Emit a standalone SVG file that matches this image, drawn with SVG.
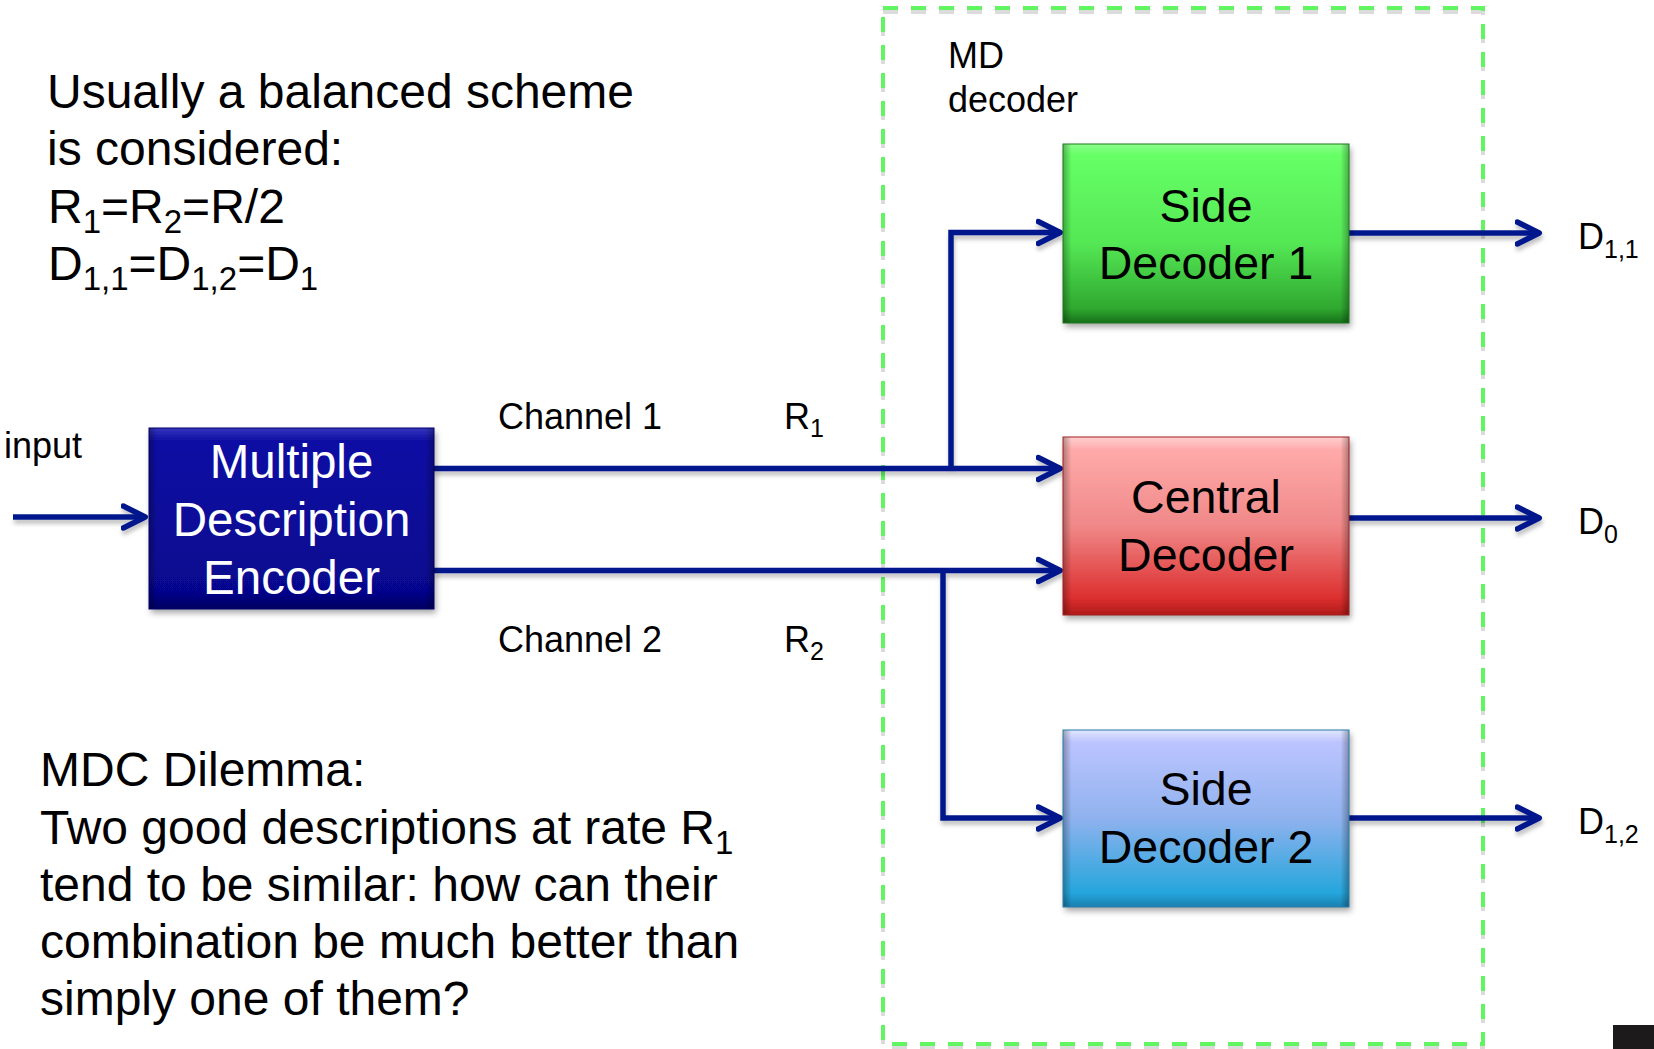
<svg xmlns="http://www.w3.org/2000/svg" width="1654" height="1049" viewBox="0 0 1654 1049">
<style>
.t{font-family:"Liberation Sans",Arial,sans-serif;fill:#000}
.p{font-size:48px}
.lbl{font-size:36px}
.box{font-size:46.5px;text-anchor:middle}
.enc{font-size:47.5px;text-anchor:middle;fill:#fff}
.wire{fill:none;stroke:#00178c;stroke-width:5.5}
.arr{marker-end:url(#ah)}
</style>
<defs>
<filter id="sh" x="-10%" y="-10%" width="120%" height="130%">
<feDropShadow dx="2" dy="4" stdDeviation="3" flood-color="#000" flood-opacity="0.35"/>
</filter>
<filter id="lsh" x="-5%" y="-5%" width="110%" height="120%">
<feDropShadow dx="1" dy="4" stdDeviation="2" flood-color="#000" flood-opacity="0.25"/>
</filter>
<marker id="ah" markerUnits="userSpaceOnUse" viewBox="0 0 30 30" markerWidth="30" markerHeight="30" refX="23.75" refY="15" orient="auto">
<path d="M2,4 L24,15 L2,26" fill="none" stroke="#00178c" stroke-width="5.5" stroke-linecap="round" stroke-linejoin="round"/>
</marker>
<linearGradient id="gEnc" x1="0" y1="0" x2="0" y2="1">
<stop offset="0" stop-color="#3535bd"/>
<stop offset="0.07" stop-color="#1010a4"/>
<stop offset="0.9" stop-color="#06068f"/>
<stop offset="1" stop-color="#000060"/>
</linearGradient>
<linearGradient id="gGreen" x1="0" y1="0" x2="0" y2="1">
<stop offset="0" stop-color="#8cff8c"/>
<stop offset="0.06" stop-color="#66ff66"/>
<stop offset="0.55" stop-color="#55e855"/>
<stop offset="0.92" stop-color="#2fa82f"/>
<stop offset="1" stop-color="#17701a"/>
</linearGradient>
<linearGradient id="gRed" x1="0" y1="0" x2="0" y2="1">
<stop offset="0" stop-color="#ffd0d0"/>
<stop offset="0.07" stop-color="#ffaaaa"/>
<stop offset="0.5" stop-color="#f08888"/>
<stop offset="0.9" stop-color="#dd3030"/>
<stop offset="1" stop-color="#b01a1a"/>
</linearGradient>
<linearGradient id="gBlue" x1="0" y1="0" x2="0" y2="1">
<stop offset="0" stop-color="#e0e6ff"/>
<stop offset="0.07" stop-color="#bcc4ff"/>
<stop offset="0.5" stop-color="#8fb2ee"/>
<stop offset="0.92" stop-color="#25a6dc"/>
<stop offset="1" stop-color="#1a7fb0"/>
</linearGradient>
<linearGradient id="gSide" x1="0" y1="0" x2="1" y2="0">
<stop offset="0" stop-color="#000" stop-opacity="0.3"/>
<stop offset="0.03" stop-color="#000" stop-opacity="0"/>
<stop offset="0.97" stop-color="#000" stop-opacity="0"/>
<stop offset="1" stop-color="#000" stop-opacity="0.3"/>
</linearGradient>
</defs>
<rect width="1654" height="1049" fill="#fff"/>

<g id="md-decoder-frame">
<rect x="883" y="8" width="600" height="1036" fill="none" stroke="#999" stroke-opacity="0.35" stroke-width="4" stroke-dasharray="15 13" transform="translate(0,4)"/>
<rect x="883" y="8" width="600" height="1036" fill="none" stroke="#62f562" stroke-width="4" stroke-dasharray="15 13"/>
<text class="t lbl" x="948" y="68">MD</text>
<text class="t lbl" x="948" y="112">decoder</text>
</g>

<g id="connectors" filter="url(#lsh)">
<path class="wire arr" d="M13,517 H145"/>
<path class="wire arr" d="M434,468.5 H1060"/>
<path class="wire arr" d="M951,471 V232.5 H1060"/>
<path class="wire arr" d="M434,570.5 H1060"/>
<path class="wire arr" d="M943,568 V818 H1060"/>
<path class="wire arr" d="M1349,233 H1539"/>
<path class="wire arr" d="M1349,518 H1539"/>
<path class="wire arr" d="M1349,818 H1539"/>
</g>

<g id="encoder">
<rect x="149" y="428" width="285" height="181" fill="url(#gEnc)" filter="url(#sh)"/>
<rect x="149" y="428" width="285" height="181" fill="url(#gSide)" stroke="#00006a" stroke-width="1"/>
<text class="t enc" x="291.5" y="478">Multiple</text>
<text class="t enc" x="291.5" y="536">Description</text>
<text class="t enc" x="291.5" y="594">Encoder</text>
</g>

<g id="side-decoder-1">
<rect x="1063" y="144" width="286" height="179" fill="url(#gGreen)" filter="url(#sh)"/>
<rect x="1063" y="144" width="286" height="179" fill="url(#gSide)" stroke="#1c7a1c" stroke-width="1"/>
<text class="t box" x="1206" y="222">Side</text>
<text class="t box" x="1206" y="279">Decoder 1</text>
</g>

<g id="central-decoder">
<rect x="1063" y="437" width="286" height="178" fill="url(#gRed)" filter="url(#sh)"/>
<rect x="1063" y="437" width="286" height="178" fill="url(#gSide)" stroke="#a52020" stroke-width="1"/>
<text class="t box" x="1206" y="513">Central</text>
<text class="t box" x="1206" y="571">Decoder</text>
</g>

<g id="side-decoder-2">
<rect x="1063" y="730" width="286" height="177" fill="url(#gBlue)" filter="url(#sh)"/>
<rect x="1063" y="730" width="286" height="177" fill="url(#gSide)" stroke="#2a7fa8" stroke-width="1"/>
<text class="t box" x="1206" y="805">Side</text>
<text class="t box" x="1206" y="863">Decoder 2</text>
</g>

<g id="labels">
<text class="t lbl" x="4" y="458">input</text>
<text class="t lbl" x="498" y="429">Channel 1</text>
<text class="t lbl" x="784" y="429">R<tspan dy="8" font-size="25">1</tspan></text>
<text class="t lbl" x="498" y="652">Channel 2</text>
<text class="t lbl" x="784" y="652">R<tspan dy="8" font-size="25">2</tspan></text>
<text class="t lbl" x="1578" y="249">D<tspan dy="9" font-size="25">1,1</tspan></text>
<text class="t lbl" x="1578" y="534">D<tspan dy="9" font-size="25">0</tspan></text>
<text class="t lbl" x="1578" y="834">D<tspan dy="9" font-size="25">1,2</tspan></text>
</g>

<g id="note-balanced">
<text class="t p" x="47" y="108">Usually a balanced scheme</text>
<text class="t p" x="47" y="165">is considered:</text>
<text class="t p" x="48" y="223">R<tspan dy="10" font-size="33">1</tspan><tspan dy="-10">=R</tspan><tspan dy="10" font-size="33">2</tspan><tspan dy="-10">=R/2</tspan></text>
<text class="t p" x="48" y="280">D<tspan dy="10" font-size="33">1,1</tspan><tspan dy="-10">=D</tspan><tspan dy="10" font-size="33">1,2</tspan><tspan dy="-10">=D</tspan><tspan dy="10" font-size="33">1</tspan></text>
</g>

<g id="note-dilemma">
<text class="t p" x="40" y="786">MDC Dilemma:</text>
<text class="t p" x="40" y="843.5">Two good descriptions at rate R<tspan dy="10" font-size="33">1</tspan></text>
<text class="t p" x="40" y="901">tend to be similar: how can their</text>
<text class="t p" x="40" y="958">combination be much better than</text>
<text class="t p" x="40" y="1015">simply one of them?</text>
</g>

<rect x="1613" y="1025" width="41" height="24" fill="#1c1a1a"/>
</svg>
